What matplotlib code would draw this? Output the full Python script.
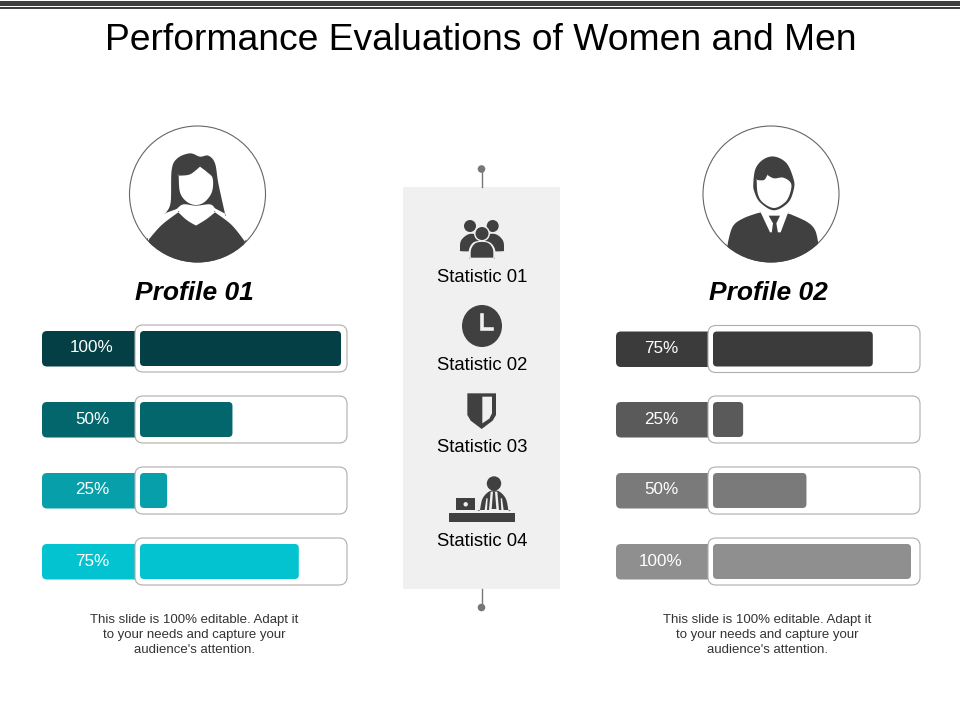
import matplotlib
matplotlib.use("Agg")
import matplotlib.pyplot as plt
import numpy as np
from matplotlib.patches import Circle, Ellipse, FancyBboxPatch, Polygon, Rectangle

plt.rcParams['font.family'] = ['Liberation Sans', 'DejaVu Sans']

# data
title = "Performance Evaluations of Women and Men"
profiles = ["Profile 01", "Profile 02"]
stats = ["Statistic 01", "Statistic 02", "Statistic 03", "Statistic 04"]
left_labels = ["100%", "50%", "25%", "75%"]
right_labels = ["75%", "25%", "50%", "100%"]
# drawn bar length, as share of the full track (the slide is not to scale)
left_fill = [100, 46, 13.5, 79]
right_fill = [79.5, 15, 46.5, 98.5]
left_colors = ["#033f44", "#03666c", "#07a0aa", "#02c3cf"]
right_colors = ["#3b3b3b", "#5a5a5a", "#7a7a7a", "#8f8f8f"]
note = "This slide is 100% editable. Adapt it\nto your needs and capture your\naudience's attention."

DARK = "#404040"
PANEL = "#f0f0f0"

fig = plt.figure(figsize=(9.6, 7.2), dpi=100)
ax = fig.add_axes([0, 0, 1, 1])
ax.set_xlim(0, 960)
ax.set_ylim(720, 0)
ax.axis("off")


def rbox(x, y, w, h, r=6, fc="none", ec="none", lw=1.0, z=2):
    ax.add_patch(FancyBboxPatch((x + r, y + r), w - 2 * r, h - 2 * r,
                                boxstyle="round,pad=%g,rounding_size=%g" % (r, r),
                                fc=fc, ec=ec, lw=lw, zorder=z))


def soften(pts, n=8):
    # closed Catmull-Rom through the points; a doubled point stays a corner
    p = np.array(pts, dtype=float)
    out = []
    for i in range(len(p)):
        p0, p1, p2, p3 = p[i - 1], p[i], p[(i + 1) % len(p)], p[(i + 2) % len(p)]
        for t in np.linspace(0, 1, n, endpoint=False):
            out.append(0.5 * (2 * p1 + (p2 - p0) * t + (2 * p0 - 5 * p1 + 4 * p2 - p3) * t ** 2
                              + (3 * p1 - p0 - 3 * p2 + p3) * t ** 3))
    return out


def poly(pts, ox, oy, fc=DARK, z=3, clip=None, smooth=False):
    if smooth:
        pts = soften(pts)
    p = Polygon([(ox + a / 3, oy + b / 3) for a, b in pts], closed=True, fc=fc, ec="none", zorder=z)
    ax.add_patch(p)
    if clip is not None:
        p.set_clip_path(clip)
    return p


def bars(tab_x, track_x, ys, labels, fills, colors, text_x):
    track_w = 212
    for y, lab, f, c in zip(ys, labels, fills, colors):
        rbox(tab_x, y + 6, track_x - tab_x + 10, 35.5, r=5, fc=c, z=2)
        rbox(track_x, y, track_w, 47, r=8, fc="white", ec="#b0acaa", lw=0.8, z=3)
        rbox(track_x + 5, y + 6, (track_w - 11) * f / 100, 35, r=4, fc=c, z=4)
        ax.text(text_x, y + 23, lab, color="white", fontsize=12.3, ha="center", va="center", zorder=5)


# top rules
ax.add_patch(Rectangle((0, 1), 960, 4.5, fc=DARK, ec="none"))
ax.add_patch(Rectangle((0, 7), 960, 1.6, fc=DARK, ec="none"))

ax.text(481, 40, title, fontsize=26.8, ha="center", va="center", color="black")

# woman
ax.add_patch(Circle((197.5, 194), 68, fc="none", ec="#666666", lw=0.8, zorder=2))
clip1 = Circle((197.5, 194), 68.5, transform=ax.transData)
poly([(85, 375), (85, 375), (125, 330), (175, 292), (175, 292), (200, 315), (228, 332), (228, 332),
      (260, 312), (285, 292), (285, 292), (335, 330), (375, 380), (375, 380), (350, 480), (350, 480),
      (100, 480), (100, 480)], 120, 115, clip=clip1, smooth=True)
poly([(137, 294), (137, 294), (152, 262), (155, 165), (172, 130), (210, 115), (240, 125), (265, 122),
      (285, 145), (295, 205), (315, 296), (315, 296), (285, 280), (285, 280), (270, 268), (228, 272),
      (190, 268), (170, 282), (170, 282)], 120, 115, smooth=True)
poly([(176, 182), (176, 182), (210, 178), (240, 155), (240, 155), (262, 172), (278, 190), (276, 230),
      (255, 260), (228, 270), (200, 260), (180, 232)], 120, 115, fc="white", z=4, smooth=True)
ax.text(194.5, 292.5, profiles[0], fontsize=19, fontweight="bold", fontstyle="italic",
        ha="center", va="center", color="black")

# man
ax.add_patch(Circle((771, 194), 68, fc="none", ec="#666666", lw=0.8, zorder=2))
clip2 = Circle((771, 194), 68.5, transform=ax.transData)
poly([(112, 390), (112, 390), (128, 335), (160, 310), (210, 292), (210, 292), (295, 295), (295, 295),
      (350, 320), (375, 345), (385, 385), (385, 385), (350, 480), (350, 480), (120, 480), (120, 480)],
     690, 115, clip=clip2, smooth=True)
poly([(210, 288), (240, 352), (272, 352), (296, 288)], 690, 115, fc="white", z=4)
poly([(236, 302), (270, 302), (259, 325), (264, 354), (245, 354), (249, 325)], 690, 115, z=5)
poly([(190, 205), (197, 160), (222, 132), (255, 125), (290, 145), (310, 190), (312, 220),
      (295, 262), (252, 286), (210, 262), (193, 230)], 690, 115, smooth=True)
poly([(200, 195), (200, 195), (222, 195), (232, 180), (232, 180), (252, 190), (280, 188), (303, 205),
      (300, 235), (285, 262), (252, 279), (218, 262), (203, 235)], 690, 115, fc="white", z=4, smooth=True)
ax.text(768, 292.5, profiles[1], fontsize=19, fontweight="bold", fontstyle="italic",
        ha="center", va="center", color="black")

# center panel and its two pins
ax.add_patch(Rectangle((403, 187), 157, 402, fc=PANEL, ec="none", zorder=1))
ax.plot([481.5, 481.5], [169, 187], color="#777777", lw=1, zorder=1)
ax.plot([481.5, 481.5], [589, 607], color="#777777", lw=1, zorder=1)
ax.add_patch(Circle((481.5, 169), 3.8, fc="#777777", ec="none"))
ax.add_patch(Circle((481.5, 607.5), 3.8, fc="#777777", ec="none"))

for y, s in zip([277, 366, 448, 541], stats):
    ax.text(482, y, s, fontsize=13.3, ha="center", va="center", color="black", zorder=6)

# people icon
ax.add_patch(Circle((470, 226), 6, fc=DARK, ec="none", zorder=3))
ax.add_patch(Circle((492.7, 226), 6, fc=DARK, ec="none", zorder=3))
poly([(180, 271), (180, 271), (183, 242), (208, 222), (245, 225), (285, 222), (309, 242), (312, 271),
      (312, 271), (300, 274), (192, 274)], 400, 160, smooth=True)
ax.add_patch(Circle((482, 233.5), 8, fc=PANEL, ec="none", zorder=4))
ax.add_patch(Circle((482, 233.5), 6.5, fc=DARK, ec="none", zorder=5))
poly([(205, 296), (205, 296), (208, 265), (225, 245), (265, 245), (284, 265), (287, 296), (287, 296)],
     400, 160, fc=PANEL, z=4, smooth=True)
poly([(212, 293), (212, 293), (214, 266), (230, 248), (262, 248), (278, 266), (280, 293), (280, 293)],
     400, 160, z=5, smooth=True)

# clock icon
ax.add_patch(Ellipse((482, 326), 40, 42, fc=DARK, ec="none", zorder=3))
ax.plot([482, 482, 492], [315, 329, 329], color=PANEL, lw=2.6, zorder=4, solid_joinstyle="miter")

# shield icon
poly([(202, 10), (288, 10), (288, 75), (278, 92), (245, 117), (212, 92), (202, 75)], 400, 390)
poly([(247, 20), (276, 20), (276, 70), (268, 86), (247, 100)], 400, 390, fc=PANEL, z=4)

# desk icon
ax.add_patch(Rectangle((449, 513), 66, 9, fc=DARK, ec="none", zorder=3))
ax.add_patch(Rectangle((456, 498), 19, 12, fc=DARK, ec="none", zorder=3))
ax.add_patch(Circle((465.7, 504.3), 2.2, fc=PANEL, ec="none", zorder=4))
ax.add_patch(Circle((494, 483.5), 7.2, fc=DARK, ec="none", zorder=3))
poly([(240, 360), (240, 360), (248, 325), (270, 303), (295, 303), (317, 325), (325, 360), (325, 360)],
     400, 390, smooth=True)
poly([(272, 305), (292, 305), (297, 360), (267, 360)], 400, 390, fc=PANEL, z=4)
poly([(279, 305), (285, 305), (289, 357), (275, 357)], 400, 390, z=5)
poly([(259, 325), (263, 325), (261, 360), (254, 360)], 400, 390, fc=PANEL, z=5)
poly([(302, 325), (306, 325), (311, 360), (304, 360)], 400, 390, fc=PANEL, z=5)

# progress rows
bars(42, 135, [325, 396, 467, 538], left_labels, left_fill, left_colors, 92)
bars(616, 708, [325.5, 396, 467, 538], right_labels, right_fill, right_colors, 661)

for x in [194.5, 767.5]:
    ax.text(x, 635, note, fontsize=9.5, ha="center", va="center", color="#333333", linespacing=1.35)

fig.savefig("out.png", dpi=100)
